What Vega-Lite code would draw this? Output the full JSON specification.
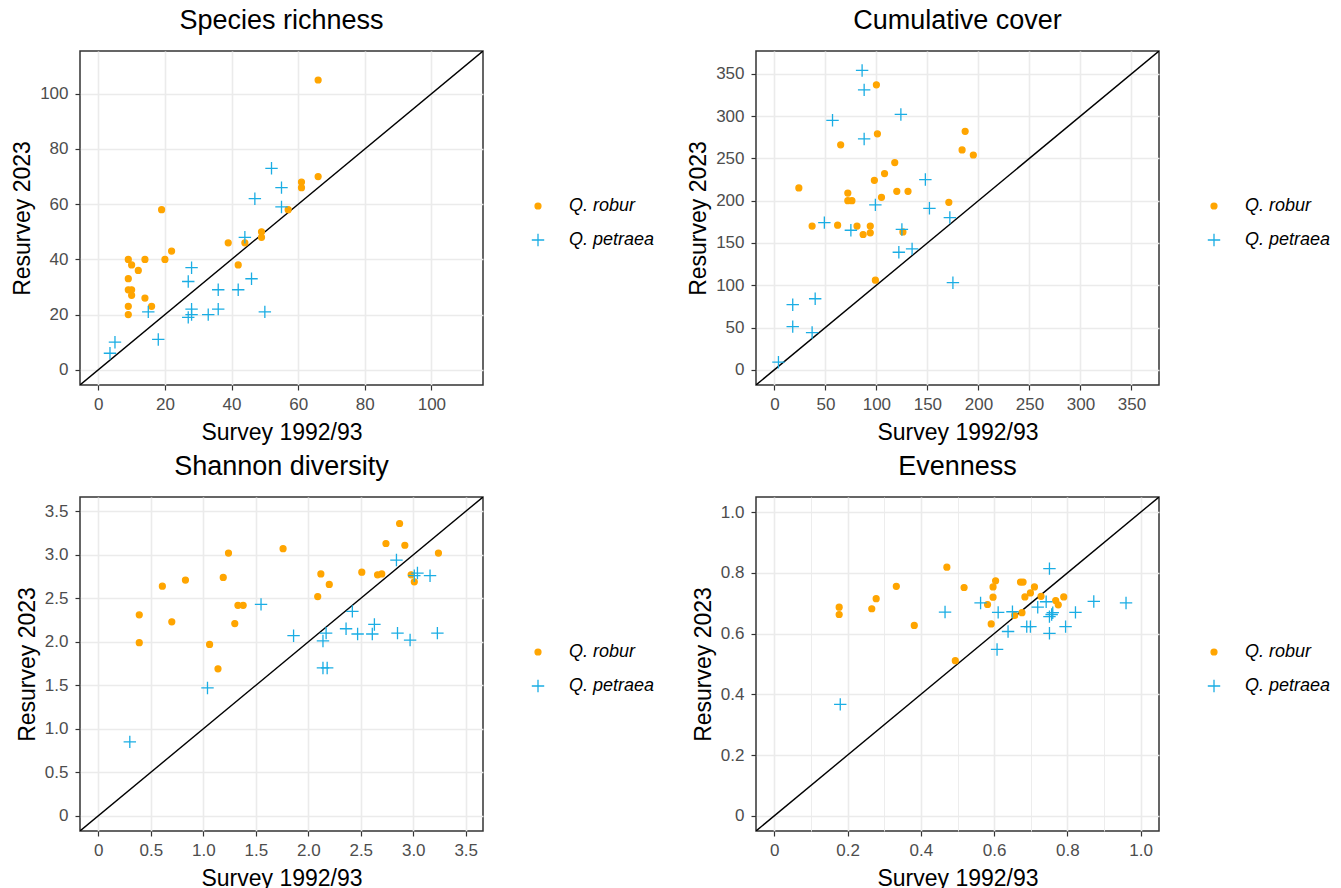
{
  "$schema": "https://vega.github.io/schema/vega-lite/v6.json",
  "padding": {"left": 10, "top": 6, "right": 0, "bottom": 0},
  "background": "white",
  "config": {
    "view": {"stroke": "#333333", "strokeWidth": 1.5},
    "font": "Liberation Sans",
    "title": {"font": "Liberation Sans", "fontSize": 27, "fontWeight": "normal", "color": "black", "frame": "group", "anchor": "middle", "offset": 16},
    "axis": {
      "grid": true, "gridColor": "#EBEBEB", "domain": false,
      "tickColor": "#333333", "tickSize": 5, "tickWidth": 1.2,
      "labelColor": "#4D4D4D", "labelFontSize": 17, "labelFont": "Liberation Sans",
      "labelFlush": false, "labelOverlap": false, "labelBound": false,
      "titleFont": "Liberation Sans", "titleFontSize": 23, "titleFontWeight": "normal", "titleColor": "black"
    },
    "axisX": {"labelPadding": 6, "titlePadding": 9},
    "axisY": {"labelPadding": 7, "titlePadding": 5},
    "legend": {
      "title": null, "orient": "none", "padding": 0,
      "labelFont": "Liberation Sans", "labelFontSize": 18, "labelFontStyle": "italic", "labelColor": "black",
      "rowPadding": 16, "labelOffset": 22, "symbolSize": 35, "symbolStrokeWidth": 1.3
    }
  },
  "datasets": {
    "rich": [
      {"species": "Q. robur", "x": 66, "y": 105}, {"species": "Q. robur", "x": 66, "y": 70}, {"species": "Q. robur", "x": 61, "y": 68}, {"species": "Q. robur", "x": 61, "y": 66}, {"species": "Q. robur", "x": 57, "y": 58},
      {"species": "Q. robur", "x": 49, "y": 50}, {"species": "Q. robur", "x": 49, "y": 48}, {"species": "Q. robur", "x": 39, "y": 46}, {"species": "Q. robur", "x": 44, "y": 46}, {"species": "Q. robur", "x": 42, "y": 38},
      {"species": "Q. robur", "x": 19, "y": 58}, {"species": "Q. robur", "x": 22, "y": 43}, {"species": "Q. robur", "x": 20, "y": 40}, {"species": "Q. robur", "x": 14, "y": 40}, {"species": "Q. robur", "x": 9, "y": 40},
      {"species": "Q. robur", "x": 10, "y": 38}, {"species": "Q. robur", "x": 12, "y": 36}, {"species": "Q. robur", "x": 9, "y": 33}, {"species": "Q. robur", "x": 9, "y": 29}, {"species": "Q. robur", "x": 10, "y": 29},
      {"species": "Q. robur", "x": 10, "y": 27}, {"species": "Q. robur", "x": 14, "y": 26}, {"species": "Q. robur", "x": 16, "y": 23}, {"species": "Q. robur", "x": 9, "y": 23}, {"species": "Q. robur", "x": 9, "y": 20},
      {"species": "Q. petraea", "x": 52, "y": 73}, {"species": "Q. petraea", "x": 55, "y": 66}, {"species": "Q. petraea", "x": 47, "y": 62}, {"species": "Q. petraea", "x": 55, "y": 59}, {"species": "Q. petraea", "x": 44, "y": 48},
      {"species": "Q. petraea", "x": 28, "y": 37}, {"species": "Q. petraea", "x": 27, "y": 32}, {"species": "Q. petraea", "x": 46, "y": 33}, {"species": "Q. petraea", "x": 36, "y": 29}, {"species": "Q. petraea", "x": 42, "y": 29},
      {"species": "Q. petraea", "x": 36, "y": 22}, {"species": "Q. petraea", "x": 28, "y": 22}, {"species": "Q. petraea", "x": 27, "y": 19}, {"species": "Q. petraea", "x": 28, "y": 20}, {"species": "Q. petraea", "x": 33, "y": 20},
      {"species": "Q. petraea", "x": 50, "y": 21}, {"species": "Q. petraea", "x": 15, "y": 21}, {"species": "Q. petraea", "x": 18, "y": 11}, {"species": "Q. petraea", "x": 5, "y": 10}, {"species": "Q. petraea", "x": 3.5, "y": 6}
    ],
    "cover": [
      {"species": "Q. robur", "x": 100, "y": 337}, {"species": "Q. robur", "x": 101, "y": 279}, {"species": "Q. robur", "x": 65, "y": 266}, {"species": "Q. robur", "x": 187, "y": 282}, {"species": "Q. robur", "x": 184, "y": 260},
      {"species": "Q. robur", "x": 195, "y": 254}, {"species": "Q. robur", "x": 118, "y": 245}, {"species": "Q. robur", "x": 108, "y": 232}, {"species": "Q. robur", "x": 98, "y": 224}, {"species": "Q. robur", "x": 24, "y": 215},
      {"species": "Q. robur", "x": 72, "y": 209}, {"species": "Q. robur", "x": 120, "y": 211}, {"species": "Q. robur", "x": 131, "y": 211}, {"species": "Q. robur", "x": 105, "y": 204}, {"species": "Q. robur", "x": 72, "y": 200},
      {"species": "Q. robur", "x": 76, "y": 200}, {"species": "Q. robur", "x": 171, "y": 198}, {"species": "Q. robur", "x": 37, "y": 170}, {"species": "Q. robur", "x": 62, "y": 171}, {"species": "Q. robur", "x": 81, "y": 170},
      {"species": "Q. robur", "x": 94, "y": 170}, {"species": "Q. robur", "x": 94, "y": 162}, {"species": "Q. robur", "x": 87, "y": 160}, {"species": "Q. robur", "x": 126, "y": 163}, {"species": "Q. robur", "x": 99, "y": 106},
      {"species": "Q. petraea", "x": 86, "y": 354}, {"species": "Q. petraea", "x": 88, "y": 331}, {"species": "Q. petraea", "x": 124, "y": 302}, {"species": "Q. petraea", "x": 57, "y": 295}, {"species": "Q. petraea", "x": 88, "y": 273},
      {"species": "Q. petraea", "x": 148, "y": 225}, {"species": "Q. petraea", "x": 152, "y": 191}, {"species": "Q. petraea", "x": 99, "y": 195}, {"species": "Q. petraea", "x": 172, "y": 180}, {"species": "Q. petraea", "x": 49, "y": 174},
      {"species": "Q. petraea", "x": 75, "y": 165}, {"species": "Q. petraea", "x": 125, "y": 166}, {"species": "Q. petraea", "x": 135, "y": 143}, {"species": "Q. petraea", "x": 122, "y": 139}, {"species": "Q. petraea", "x": 175, "y": 103},
      {"species": "Q. petraea", "x": 40, "y": 84}, {"species": "Q. petraea", "x": 18, "y": 77}, {"species": "Q. petraea", "x": 18, "y": 51}, {"species": "Q. petraea", "x": 37, "y": 44}, {"species": "Q. petraea", "x": 4, "y": 9}
    ],
    "shannon": [
      {"species": "Q. robur", "x": 2.87, "y": 3.36}, {"species": "Q. robur", "x": 2.74, "y": 3.13}, {"species": "Q. robur", "x": 2.92, "y": 3.11}, {"species": "Q. robur", "x": 3.24, "y": 3.02}, {"species": "Q. robur", "x": 1.24, "y": 3.02},
      {"species": "Q. robur", "x": 1.76, "y": 3.07}, {"species": "Q. robur", "x": 2.51, "y": 2.8}, {"species": "Q. robur", "x": 2.12, "y": 2.78}, {"species": "Q. robur", "x": 2.66, "y": 2.77}, {"species": "Q. robur", "x": 2.7, "y": 2.78},
      {"species": "Q. robur", "x": 2.98, "y": 2.77}, {"species": "Q. robur", "x": 3.01, "y": 2.69}, {"species": "Q. robur", "x": 2.2, "y": 2.66}, {"species": "Q. robur", "x": 2.09, "y": 2.52}, {"species": "Q. robur", "x": 0.61, "y": 2.64},
      {"species": "Q. robur", "x": 0.83, "y": 2.71}, {"species": "Q. robur", "x": 1.19, "y": 2.74}, {"species": "Q. robur", "x": 1.33, "y": 2.42}, {"species": "Q. robur", "x": 1.38, "y": 2.42}, {"species": "Q. robur", "x": 0.39, "y": 2.31},
      {"species": "Q. robur", "x": 0.7, "y": 2.23}, {"species": "Q. robur", "x": 1.3, "y": 2.21}, {"species": "Q. robur", "x": 0.39, "y": 1.99}, {"species": "Q. robur", "x": 1.06, "y": 1.97}, {"species": "Q. robur", "x": 1.14, "y": 1.69},
      {"species": "Q. petraea", "x": 2.84, "y": 2.94}, {"species": "Q. petraea", "x": 3.04, "y": 2.79}, {"species": "Q. petraea", "x": 3.01, "y": 2.76}, {"species": "Q. petraea", "x": 3.16, "y": 2.76}, {"species": "Q. petraea", "x": 1.55, "y": 2.43},
      {"species": "Q. petraea", "x": 2.42, "y": 2.35}, {"species": "Q. petraea", "x": 2.63, "y": 2.2}, {"species": "Q. petraea", "x": 2.36, "y": 2.15}, {"species": "Q. petraea", "x": 2.17, "y": 2.1}, {"species": "Q. petraea", "x": 2.47, "y": 2.09},
      {"species": "Q. petraea", "x": 2.61, "y": 2.09}, {"species": "Q. petraea", "x": 2.85, "y": 2.1}, {"species": "Q. petraea", "x": 3.23, "y": 2.1}, {"species": "Q. petraea", "x": 1.86, "y": 2.07}, {"species": "Q. petraea", "x": 2.14, "y": 2.01},
      {"species": "Q. petraea", "x": 2.97, "y": 2.02}, {"species": "Q. petraea", "x": 2.14, "y": 1.7}, {"species": "Q. petraea", "x": 2.18, "y": 1.7}, {"species": "Q. petraea", "x": 1.04, "y": 1.47}, {"species": "Q. petraea", "x": 0.3, "y": 0.85}
    ],
    "even": [
      {"species": "Q. robur", "x": 0.471, "y": 0.819}, {"species": "Q. robur", "x": 0.333, "y": 0.756}, {"species": "Q. robur", "x": 0.518, "y": 0.752}, {"species": "Q. robur", "x": 0.278, "y": 0.715}, {"species": "Q. robur", "x": 0.177, "y": 0.687},
      {"species": "Q. robur", "x": 0.177, "y": 0.663}, {"species": "Q. robur", "x": 0.266, "y": 0.682}, {"species": "Q. robur", "x": 0.382, "y": 0.627}, {"species": "Q. robur", "x": 0.494, "y": 0.511}, {"species": "Q. robur", "x": 0.604, "y": 0.774},
      {"species": "Q. robur", "x": 0.597, "y": 0.754}, {"species": "Q. robur", "x": 0.597, "y": 0.72}, {"species": "Q. robur", "x": 0.582, "y": 0.696}, {"species": "Q. robur", "x": 0.592, "y": 0.632}, {"species": "Q. robur", "x": 0.672, "y": 0.77},
      {"species": "Q. robur", "x": 0.679, "y": 0.77}, {"species": "Q. robur", "x": 0.71, "y": 0.754}, {"species": "Q. robur", "x": 0.699, "y": 0.734}, {"species": "Q. robur", "x": 0.684, "y": 0.721}, {"species": "Q. robur", "x": 0.728, "y": 0.723},
      {"species": "Q. robur", "x": 0.79, "y": 0.721}, {"species": "Q. robur", "x": 0.768, "y": 0.709}, {"species": "Q. robur", "x": 0.775, "y": 0.695}, {"species": "Q. robur", "x": 0.676, "y": 0.669}, {"species": "Q. robur", "x": 0.656, "y": 0.66},
      {"species": "Q. petraea", "x": 0.751, "y": 0.814}, {"species": "Q. petraea", "x": 0.872, "y": 0.706}, {"species": "Q. petraea", "x": 0.96, "y": 0.701}, {"species": "Q. petraea", "x": 0.563, "y": 0.701}, {"species": "Q. petraea", "x": 0.742, "y": 0.705},
      {"species": "Q. petraea", "x": 0.719, "y": 0.687}, {"species": "Q. petraea", "x": 0.466, "y": 0.671}, {"species": "Q. petraea", "x": 0.611, "y": 0.67}, {"species": "Q. petraea", "x": 0.65, "y": 0.672}, {"species": "Q. petraea", "x": 0.822, "y": 0.67},
      {"species": "Q. petraea", "x": 0.76, "y": 0.669}, {"species": "Q. petraea", "x": 0.751, "y": 0.656}, {"species": "Q. petraea", "x": 0.638, "y": 0.607}, {"species": "Q. petraea", "x": 0.689, "y": 0.623}, {"species": "Q. petraea", "x": 0.699, "y": 0.623},
      {"species": "Q. petraea", "x": 0.795, "y": 0.623}, {"species": "Q. petraea", "x": 0.751, "y": 0.601}, {"species": "Q. petraea", "x": 0.608, "y": 0.548}, {"species": "Q. petraea", "x": 0.18, "y": 0.367}, {"species": "Q. petraea", "x": 0.757, "y": 0.663}
    ]
  },
  "concat": [
    {
      "width": 403, "height": 334,
      "title": "Species richness",
      "layer": [
        {"data": {"values": [{}]}, "mark": {"type": "rule", "color": "black", "strokeWidth": 1.4, "clip": true},
         "encoding": {"x": {"datum": -5.5, "type": "quantitative"}, "y": {"datum": -5.5, "type": "quantitative"}, "x2": {"datum": 115.5}, "y2": {"datum": 115.5}}},
        {"data": {"name": "rich"}, "mark": {"type": "point", "filled": true, "size": 35, "strokeWidth": 1.3, "opacity": 1},
         "encoding": {
           "x": {"field": "x", "type": "quantitative", "scale": {"domain": [-5.5, 115.5], "nice": false, "zero": false},
                 "axis": {"title": "Survey 1992/93", "values": [0,10,20,30,40,50,60,70,80,90,100,110],
                          "labelExpr": "datum.value % 20 != 0 ? '' : datum.label",
                          "gridWidth": {"condition": {"test": "datum.value % 20 != 0", "value": 0.9}, "value": 1.6},
                          "tickOpacity": {"condition": {"test": "datum.value % 20 != 0", "value": 0}, "value": 1}}},
           "y": {"field": "y", "type": "quantitative", "scale": {"domain": [-5.5, 115.5], "nice": false, "zero": false},
                 "axis": {"title": "Resurvey 2023", "values": [0,10,20,30,40,50,60,70,80,90,100,110],
                          "labelExpr": "datum.value % 20 != 0 ? '' : datum.label",
                          "gridWidth": {"condition": {"test": "datum.value % 20 != 0", "value": 0.9}, "value": 1.6},
                          "tickOpacity": {"condition": {"test": "datum.value % 20 != 0", "value": 0}, "value": 1}}},
           "fill": {"field": "species", "type": "nominal", "scale": {"domain": ["Q. robur", "Q. petraea"], "range": ["#FFA500", "#1AADE4"]}, "legend": {"legendX": 449, "legendY": 146}},
           "stroke": {"field": "species", "type": "nominal", "scale": {"domain": ["Q. robur", "Q. petraea"], "range": ["#FFA500", "#1AADE4"]}, "legend": {"legendX": 449, "legendY": 146}},
           "shape": {"field": "species", "type": "nominal", "scale": {"domain": ["Q. robur", "Q. petraea"], "range": ["circle", "M-2.1,0H2.1M0,-2.1V2.1"]}, "legend": {"legendX": 449, "legendY": 146}}
         }}
      ]
    },
    {
      "width": 403, "height": 334,
      "title": "Cumulative cover",
      "layer": [
        {"data": {"values": [{}]}, "mark": {"type": "rule", "color": "black", "strokeWidth": 1.4, "clip": true},
         "encoding": {"x": {"datum": -18, "type": "quantitative"}, "y": {"datum": -18, "type": "quantitative"}, "x2": {"datum": 377}, "y2": {"datum": 377}}},
        {"data": {"name": "cover"}, "mark": {"type": "point", "filled": true, "size": 35, "strokeWidth": 1.3, "opacity": 1},
         "encoding": {
           "x": {"field": "x", "type": "quantitative", "scale": {"domain": [-18, 377], "nice": false, "zero": false},
                 "axis": {"title": "Survey 1992/93", "values": [0,25,50,75,100,125,150,175,200,225,250,275,300,325,350,375],
                          "labelExpr": "datum.value % 50 != 0 ? '' : datum.label",
                          "gridWidth": {"condition": {"test": "datum.value % 50 != 0", "value": 0.9}, "value": 1.6},
                          "tickOpacity": {"condition": {"test": "datum.value % 50 != 0", "value": 0}, "value": 1}}},
           "y": {"field": "y", "type": "quantitative", "scale": {"domain": [-18, 377], "nice": false, "zero": false},
                 "axis": {"title": "Resurvey 2023", "values": [0,25,50,75,100,125,150,175,200,225,250,275,300,325,350,375],
                          "labelExpr": "datum.value % 50 != 0 ? '' : datum.label",
                          "gridWidth": {"condition": {"test": "datum.value % 50 != 0", "value": 0.9}, "value": 1.6},
                          "tickOpacity": {"condition": {"test": "datum.value % 50 != 0", "value": 0}, "value": 1}}},
           "fill": {"field": "species", "type": "nominal", "scale": {"domain": ["Q. robur", "Q. petraea"], "range": ["#FFA500", "#1AADE4"]}, "legend": {"legendX": 449, "legendY": 146}},
           "stroke": {"field": "species", "type": "nominal", "scale": {"domain": ["Q. robur", "Q. petraea"], "range": ["#FFA500", "#1AADE4"]}, "legend": {"legendX": 449, "legendY": 146}},
           "shape": {"field": "species", "type": "nominal", "scale": {"domain": ["Q. robur", "Q. petraea"], "range": ["circle", "M-2.1,0H2.1M0,-2.1V2.1"]}, "legend": {"legendX": 449, "legendY": 146}}
         }}
      ]
    },
    {
      "width": 403, "height": 334,
      "title": "Shannon diversity",
      "layer": [
        {"data": {"values": [{}]}, "mark": {"type": "rule", "color": "black", "strokeWidth": 1.4, "clip": true},
         "encoding": {"x": {"datum": -0.1745, "type": "quantitative"}, "y": {"datum": -0.1745, "type": "quantitative"}, "x2": {"datum": 3.6645}, "y2": {"datum": 3.6645}}},
        {"data": {"name": "shannon"}, "mark": {"type": "point", "filled": true, "size": 35, "strokeWidth": 1.3, "opacity": 1},
         "encoding": {
           "x": {"field": "x", "type": "quantitative", "scale": {"domain": [-0.1745, 3.6645], "nice": false, "zero": false},
                 "axis": {"title": "Survey 1992/93", "values": [0,0.25,0.5,0.75,1,1.25,1.5,1.75,2,2.25,2.5,2.75,3,3.25,3.5],
                          "labelExpr": "round(datum.value*4) % 2 != 0 ? '' : (datum.value == 0 ? '0' : format(datum.value, '.1f'))",
                          "gridWidth": {"condition": {"test": "round(datum.value*4) % 2 != 0", "value": 0.9}, "value": 1.6},
                          "tickOpacity": {"condition": {"test": "round(datum.value*4) % 2 != 0", "value": 0}, "value": 1}}},
           "y": {"field": "y", "type": "quantitative", "scale": {"domain": [-0.1745, 3.6645], "nice": false, "zero": false},
                 "axis": {"title": "Resurvey 2023", "values": [0,0.25,0.5,0.75,1,1.25,1.5,1.75,2,2.25,2.5,2.75,3,3.25,3.5],
                          "labelExpr": "round(datum.value*4) % 2 != 0 ? '' : (datum.value == 0 ? '0' : format(datum.value, '.1f'))",
                          "gridWidth": {"condition": {"test": "round(datum.value*4) % 2 != 0", "value": 0.9}, "value": 1.6},
                          "tickOpacity": {"condition": {"test": "round(datum.value*4) % 2 != 0", "value": 0}, "value": 1}}},
           "fill": {"field": "species", "type": "nominal", "scale": {"domain": ["Q. robur", "Q. petraea"], "range": ["#FFA500", "#1AADE4"]}, "legend": {"legendX": 449, "legendY": 146}},
           "stroke": {"field": "species", "type": "nominal", "scale": {"domain": ["Q. robur", "Q. petraea"], "range": ["#FFA500", "#1AADE4"]}, "legend": {"legendX": 449, "legendY": 146}},
           "shape": {"field": "species", "type": "nominal", "scale": {"domain": ["Q. robur", "Q. petraea"], "range": ["circle", "M-2.1,0H2.1M0,-2.1V2.1"]}, "legend": {"legendX": 449, "legendY": 146}}
         }}
      ]
    },
    {
      "width": 403, "height": 334,
      "title": "Evenness",
      "layer": [
        {"data": {"values": [{}]}, "mark": {"type": "rule", "color": "black", "strokeWidth": 1.4, "clip": true},
         "encoding": {"x": {"datum": -0.05, "type": "quantitative"}, "y": {"datum": -0.05, "type": "quantitative"}, "x2": {"datum": 1.05}, "y2": {"datum": 1.05}}},
        {"data": {"name": "even"}, "mark": {"type": "point", "filled": true, "size": 35, "strokeWidth": 1.3, "opacity": 1},
         "encoding": {
           "x": {"field": "x", "type": "quantitative", "scale": {"domain": [-0.05, 1.05], "nice": false, "zero": false},
                 "axis": {"title": "Survey 1992/93", "values": [0,0.1,0.2,0.3,0.4,0.5,0.6,0.7,0.8,0.9,1],
                          "labelExpr": "round(datum.value*10) % 2 != 0 ? '' : (datum.value == 0 ? '0' : format(datum.value, '.1f'))",
                          "gridWidth": {"condition": {"test": "round(datum.value*10) % 2 != 0", "value": 0.9}, "value": 1.6},
                          "tickOpacity": {"condition": {"test": "round(datum.value*10) % 2 != 0", "value": 0}, "value": 1}}},
           "y": {"field": "y", "type": "quantitative", "scale": {"domain": [-0.05, 1.05], "nice": false, "zero": false},
                 "axis": {"title": "Resurvey 2023", "values": [0,0.1,0.2,0.3,0.4,0.5,0.6,0.7,0.8,0.9,1],
                          "labelExpr": "round(datum.value*10) % 2 != 0 ? '' : (datum.value == 0 ? '0' : format(datum.value, '.1f'))",
                          "gridWidth": {"condition": {"test": "round(datum.value*10) % 2 != 0", "value": 0.9}, "value": 1.6},
                          "tickOpacity": {"condition": {"test": "round(datum.value*10) % 2 != 0", "value": 0}, "value": 1}}},
           "fill": {"field": "species", "type": "nominal", "scale": {"domain": ["Q. robur", "Q. petraea"], "range": ["#FFA500", "#1AADE4"]}, "legend": {"legendX": 449, "legendY": 146}},
           "stroke": {"field": "species", "type": "nominal", "scale": {"domain": ["Q. robur", "Q. petraea"], "range": ["#FFA500", "#1AADE4"]}, "legend": {"legendX": 449, "legendY": 146}},
           "shape": {"field": "species", "type": "nominal", "scale": {"domain": ["Q. robur", "Q. petraea"], "range": ["circle", "M-2.1,0H2.1M0,-2.1V2.1"]}, "legend": {"legendX": 449, "legendY": 146}}
         }}
      ]
    }
  ],
  "columns": 2,
  "spacing": {"row": 7, "column": 30},
  "resolve": {"scale": {"fill": "independent", "stroke": "independent", "shape": "independent"}, "legend": {"fill": "independent", "stroke": "independent", "shape": "independent"}}
}
